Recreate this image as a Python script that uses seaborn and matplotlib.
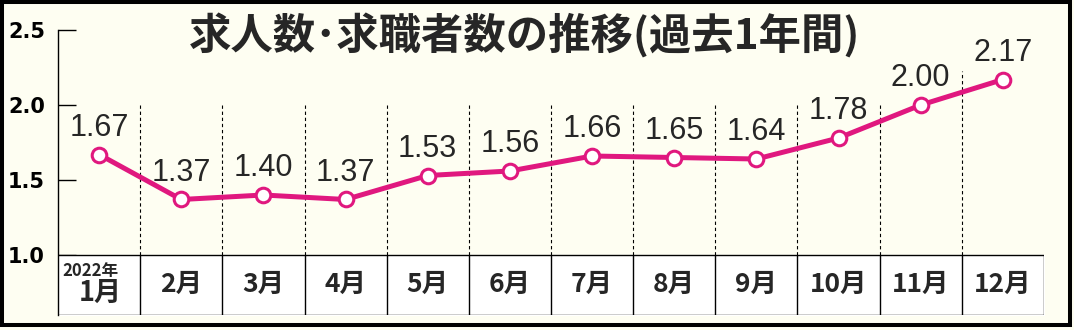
import numpy as np
import pandas as pd
import seaborn as sns
import matplotlib
matplotlib.use("Agg")
import matplotlib.pyplot as plt
from matplotlib.patches import Rectangle

# ---- data ----
months = ["1月", "2月", "3月", "4月", "5月", "6月", "7月", "8月", "9月", "10月", "11月", "12月"]
year_label = "2022年"
ratios = [1.67, 1.37, 1.40, 1.37, 1.53, 1.56, 1.66, 1.65, 1.64, 1.78, 2.00, 2.17]
y_ticks = [1.0, 1.5, 2.0, 2.5]
title = "求人数･求職者数の推移(過去1年間)"

# ---- style ----
BG = "#FEFEF2"
LINE = "#E0187F"
NUM_FONT = ["Liberation Sans Narrow", "Liberation Sans", "DejaVu Sans"]

sns.set_theme(style="white")
plt.rcParams["font.family"] = ["Noto Sans CJK JP", "DejaVu Sans"]

W, H = 1074, 330
fig = plt.figure(figsize=(W / 100, H / 100), dpi=100, facecolor=BG)
ax = fig.add_axes([58 / W, 1 - 315 / H, (1044 - 58) / W, (315 - 30) / H])
ax.set_facecolor("none")

df = pd.DataFrame({"pos": np.arange(len(months)) + 0.5, "ratio": ratios, "month": months})
sns.lineplot(data=df, x="pos", y="ratio", ax=ax, color=LINE, lw=3.6, marker="o",
             markersize=10.5, markerfacecolor="white", markeredgecolor=LINE,
             markeredgewidth=2.2, clip_on=False, zorder=5)

ax.set_xlim(0, len(months))
ax.set_ylim(0.6, 2.5)
ax.set_xlabel("")
ax.set_ylabel("")
ax.set_xticks([])
ax.set_yticks(y_ticks)
ax.set_yticklabels([f"{t:.1f}" for t in y_ticks], fontweight="bold",
                   family=["DejaVu Sans"])
ax.tick_params(axis="y", direction="in", length=13, width=1, pad=9.4,
               labelsize=15, color="black", labelcolor="black", left=True)
for s in ["top", "right", "bottom"]:
    ax.spines[s].set_visible(False)
ax.spines["left"].set_bounds(0.6, 2.5)
ax.spines["left"].set_color("black")
ax.spines["left"].set_linewidth(1)

# table at bottom
n = len(months)
ax.fill_between([0, n], 0.6, 1.0, color="white", zorder=1)
ax.hlines([0.6, 1.0], 0, n, color="black", lw=1, zorder=3)
ax.vlines(np.arange(1, n + 1), 0.6, 1.0, color="black", lw=1, zorder=3)
divider_tops = [2.0] * (n - 2) + [2.23]
ax.vlines(np.arange(1, n), 1.0, divider_tops, color="black", lw=0.8,
          linestyles=(0, (3, 2.5)), zorder=2)

for i, m in enumerate(months):
    if i == 0:
        ax.text(i + 0.51, 0.75, m, ha="center", va="center", fontsize=19.5, fontweight="bold")
        ax.text(i + 0.05, 0.895, year_label, ha="left", va="center", fontsize=12,
                fontweight="bold")
    else:
        ax.text(i + 0.5, 0.805, m, ha="center", va="center", fontsize=19, fontweight="bold")

# value labels
for x, v in zip(df["pos"], ratios):
    ax.annotate(f"{v:.2f}", (x, v), xytext=(0, 13.5), textcoords="offset points",
                ha="center", va="baseline", fontsize=22, family=NUM_FONT, zorder=6)

fig.text(525 / W, 1 - 36 / H, title, ha="center", va="center", fontsize=30.5,
         fontweight="bold")

fig.add_artist(Rectangle((2 / W, 1 - 324.5 / H), 1068 / W, 322.5 / H,
                         transform=fig.transFigure, fill=False, edgecolor="black",
                         lw=2.9))

fig.savefig("out.png", dpi=100, facecolor=BG)
